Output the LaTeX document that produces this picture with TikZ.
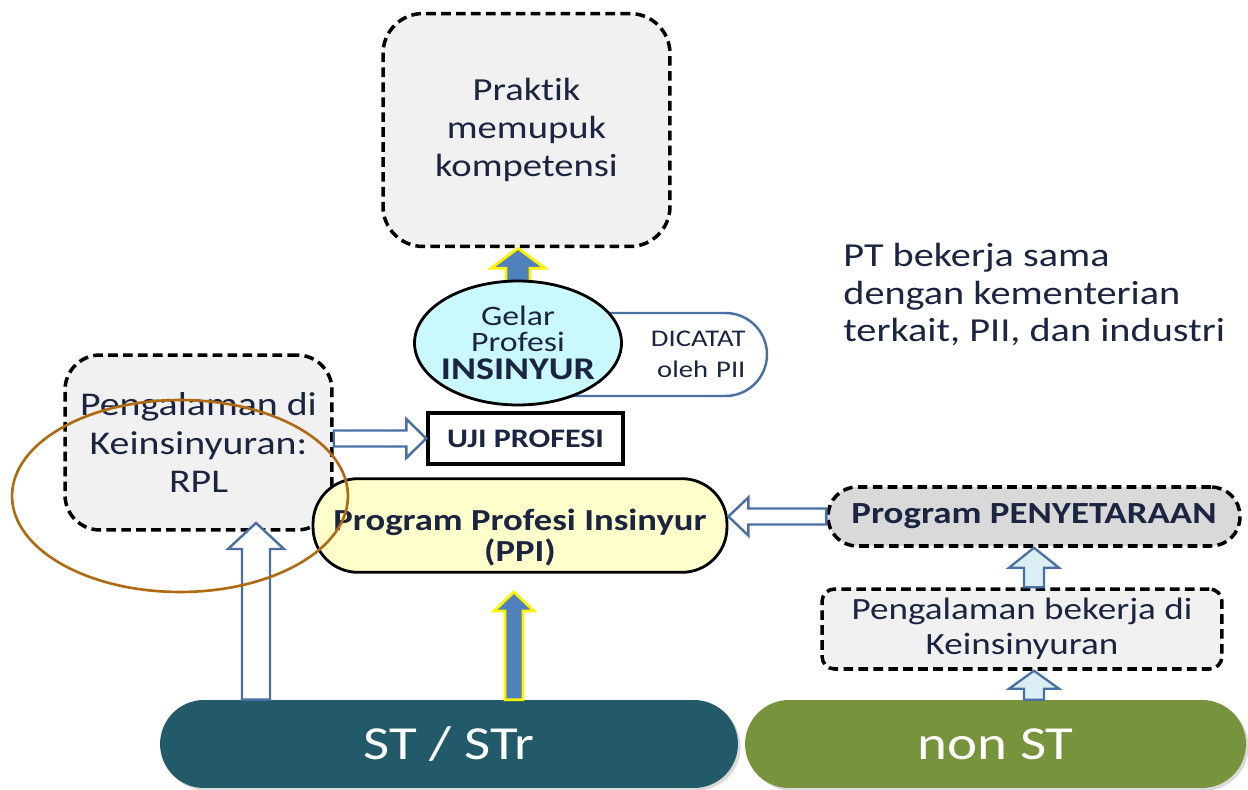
\documentclass[tikz,border=0pt]{standalone}
\usepackage{fontspec}
\setmainfont{Carlito}[FakeStretch=1.2, Ligatures=NoCommon]
\usepackage{xcolor}
\usetikzlibrary{calc,shapes.geometric,shadows}
\definecolor{inkdark}{HTML}{1B2440}
\definecolor{boxgray}{HTML}{F1F1F1}
\definecolor{penygray}{HTML}{D9D9D9}
\definecolor{gelarcyan}{HTML}{C9F9FC}
\definecolor{ppiyellow}{HTML}{FFFFCC}
\definecolor{arrblue}{HTML}{4A6FA5}
\definecolor{arrfill}{HTML}{4F81BD}
\definecolor{arrlight}{HTML}{DBEEF4}
\definecolor{stteal}{HTML}{225A69}
\definecolor{nonstgreen}{HTML}{77933C}
\definecolor{rplorange}{HTML}{B06A12}
\pgfdeclarelayer{background}
\pgfsetlayers{background,main}

% block arrows: style, from, to, shaft half width, head half width, head length
\newcommand{\blockv}[6]{%
  \draw[#1] let \p1=(#2), \p2=(#3), \n1={sign(\y2-\y1)} in
    ({\x1-#4},\y1) -- ({\x1-#4},{\y2-(\n1)*#6}) -- ({\x1-#5},{\y2-(\n1)*#6}) -- (\x1,\y2)
    -- ({\x1+#5},{\y2-(\n1)*#6}) -- ({\x1+#4},{\y2-(\n1)*#6}) -- ({\x1+#4},\y1) -- cycle;}
\newcommand{\blockh}[6]{%
  \draw[#1] let \p1=(#2), \p2=(#3), \n1={sign(\x2-\x1)} in
    (\x1,{\y1-#4}) -- ({\x2-(\n1)*#6},{\y1-#4}) -- ({\x2-(\n1)*#6},{\y1-#5}) -- (\x2,\y1)
    -- ({\x2-(\n1)*#6},{\y1+#5}) -- ({\x2-(\n1)*#6},{\y1+#4}) -- (\x1,{\y1+#4}) -- cycle;}

\begin{document}
\begin{tikzpicture}[x=0.02cm, y=-0.02cm,
  dbox/.style={draw, line width=2pt, dash pattern=on 5.5pt off 3pt, fill=boxgray,
               text=inkdark, align=center},
  rootpill/.style={fill=#1, text=white, font=\fontsize{27}{30}\selectfont,
               minimum height=1.76cm, rounded corners=0.88cm,
               drop shadow={opacity=0.3, shadow xshift=1.5pt, shadow yshift=-1.5pt}},
  hollow/.style={draw=arrblue, fill=white, line width=1.4pt, line join=miter},
  hiarrow/.style={draw=yellow, fill=arrfill, line width=1.6pt, line join=miter},
  lightarr/.style={draw=arrblue, fill=arrlight, line width=1.3pt, line join=miter}]
\useasboundingbox (0,0) rectangle (1248,790);

\node[dbox, minimum width=5.74cm, minimum height=4.66cm, rounded corners=0.8cm,
      font=\fontsize{18.3}{21.5}\selectfont] (praktik) at (526.5,130) {Praktik\\memupuk\\kompetensi};
\node[dbox, minimum width=5.34cm, minimum height=3.5cm, rounded corners=0.7cm,
      font=\fontsize{18.9}{22}\selectfont] (rpl) at (198.5,442.5) {Pengalaman di\\Keinsinyuran:\\RPL};
\node[draw=arrblue, line width=1.4pt, fill=white, rounded corners=0.83cm, minimum height=1.66cm,
      text width=4.08cm, inner xsep=0.43cm, align=right, text=inkdark,
      font=\fontsize{13.6}{17.5}\selectfont] (dicatat) at (643.5,354.5) {DICATAT\\oleh PII};
\node[ellipse, draw, line width=1.6pt, fill=gelarcyan, minimum width=4.14cm, minimum height=2.48cm,
      inner xsep=-3pt, inner ysep=0pt, align=center, text=inkdark, font=\fontsize{16}{15}\selectfont]
      (gelar) at (518,343)
      {Gelar\\Profesi\\[1pt]{\fontsize{18}{18}\selectfont\bfseries INSINYUR}};
\node[draw, line width=2pt, fill=white, minimum width=3.9cm, minimum height=1.02cm, text=inkdark,
      font=\fontsize{15.2}{18}\selectfont\bfseries] (uji) at (525.5,438.5) {UJI PROFESI};
\node[draw, line width=1.6pt, fill=ppiyellow, rounded corners=0.9cm, minimum width=8.28cm,
      minimum height=1.82cm, align=center, text=inkdark,
      font=\fontsize{17.4}{18}\selectfont\bfseries] (ppi) at (520,525.5)
      {\rule{0pt}{26pt}Program Profesi Insinyur\\(PPI)};
\node[dbox, fill=penygray, rounded corners=0.58cm, minimum width=8.24cm, minimum height=1.18cm,
      font=\fontsize{17.5}{20}\selectfont\bfseries] (peny) at (1034,516.5) {Program PENYETARAAN};
\node[dbox, rounded corners=0.25cm, minimum width=8cm, minimum height=1.6cm,
      font=\fontsize{17.6}{20}\selectfont] (kerja) at (1022,629) {Pengalaman bekerja di\\Keinsinyuran};
\node[rootpill=stteal, minimum width=11.56cm] (st) at (449,744) {ST / STr};
\node[rootpill=nonstgreen, minimum width=10.02cm] (nonst) at (995.5,744) {non ST};
\node[anchor=north west, align=left, inner sep=0pt, text=inkdark,
      font=\fontsize{19.1}{21.3}\selectfont] (ptnote) at (843,243)
      {PT bekerja sama\\dengan kementerian\\terkait, PII, dan industri};

\coordinate (rplin) at (256,523);
\coordinate (ppiin) at (514,592);
\coordinate (gelarin) at (518,298);
\begin{pgfonlayer}{background}
\blockv{hiarrow}{gelarin}{praktik.south}{0.24cm}{0.54cm}{0.4cm}
\end{pgfonlayer}
\blockv{hollow}{rplin |- st.north}{rplin}{0.28cm}{0.56cm}{0.52cm}
\blockv{hiarrow}{ppiin |- st.north}{ppiin}{0.18cm}{0.4cm}{0.38cm}
\blockh{hollow}{rpl.east |- uji.west}{uji.west}{0.16cm}{0.39cm}{0.4cm}
\blockh{hollow}{peny.west}{ppi.east |- peny.west}{0.16cm}{0.38cm}{0.4cm}
\blockv{lightarr}{kerja.north -| peny.south}{peny.south}{0.2cm}{0.5cm}{0.4cm}
\blockv{lightarr}{nonst.north -| peny.south}{kerja.south -| peny.south}{0.2cm}{0.5cm}{0.36cm}

\node[ellipse, draw=rplorange, line width=1.5pt, minimum width=6.72cm, minimum height=3.84cm]
  (rplring) at (180,496) {};
\end{tikzpicture}
\end{document}
